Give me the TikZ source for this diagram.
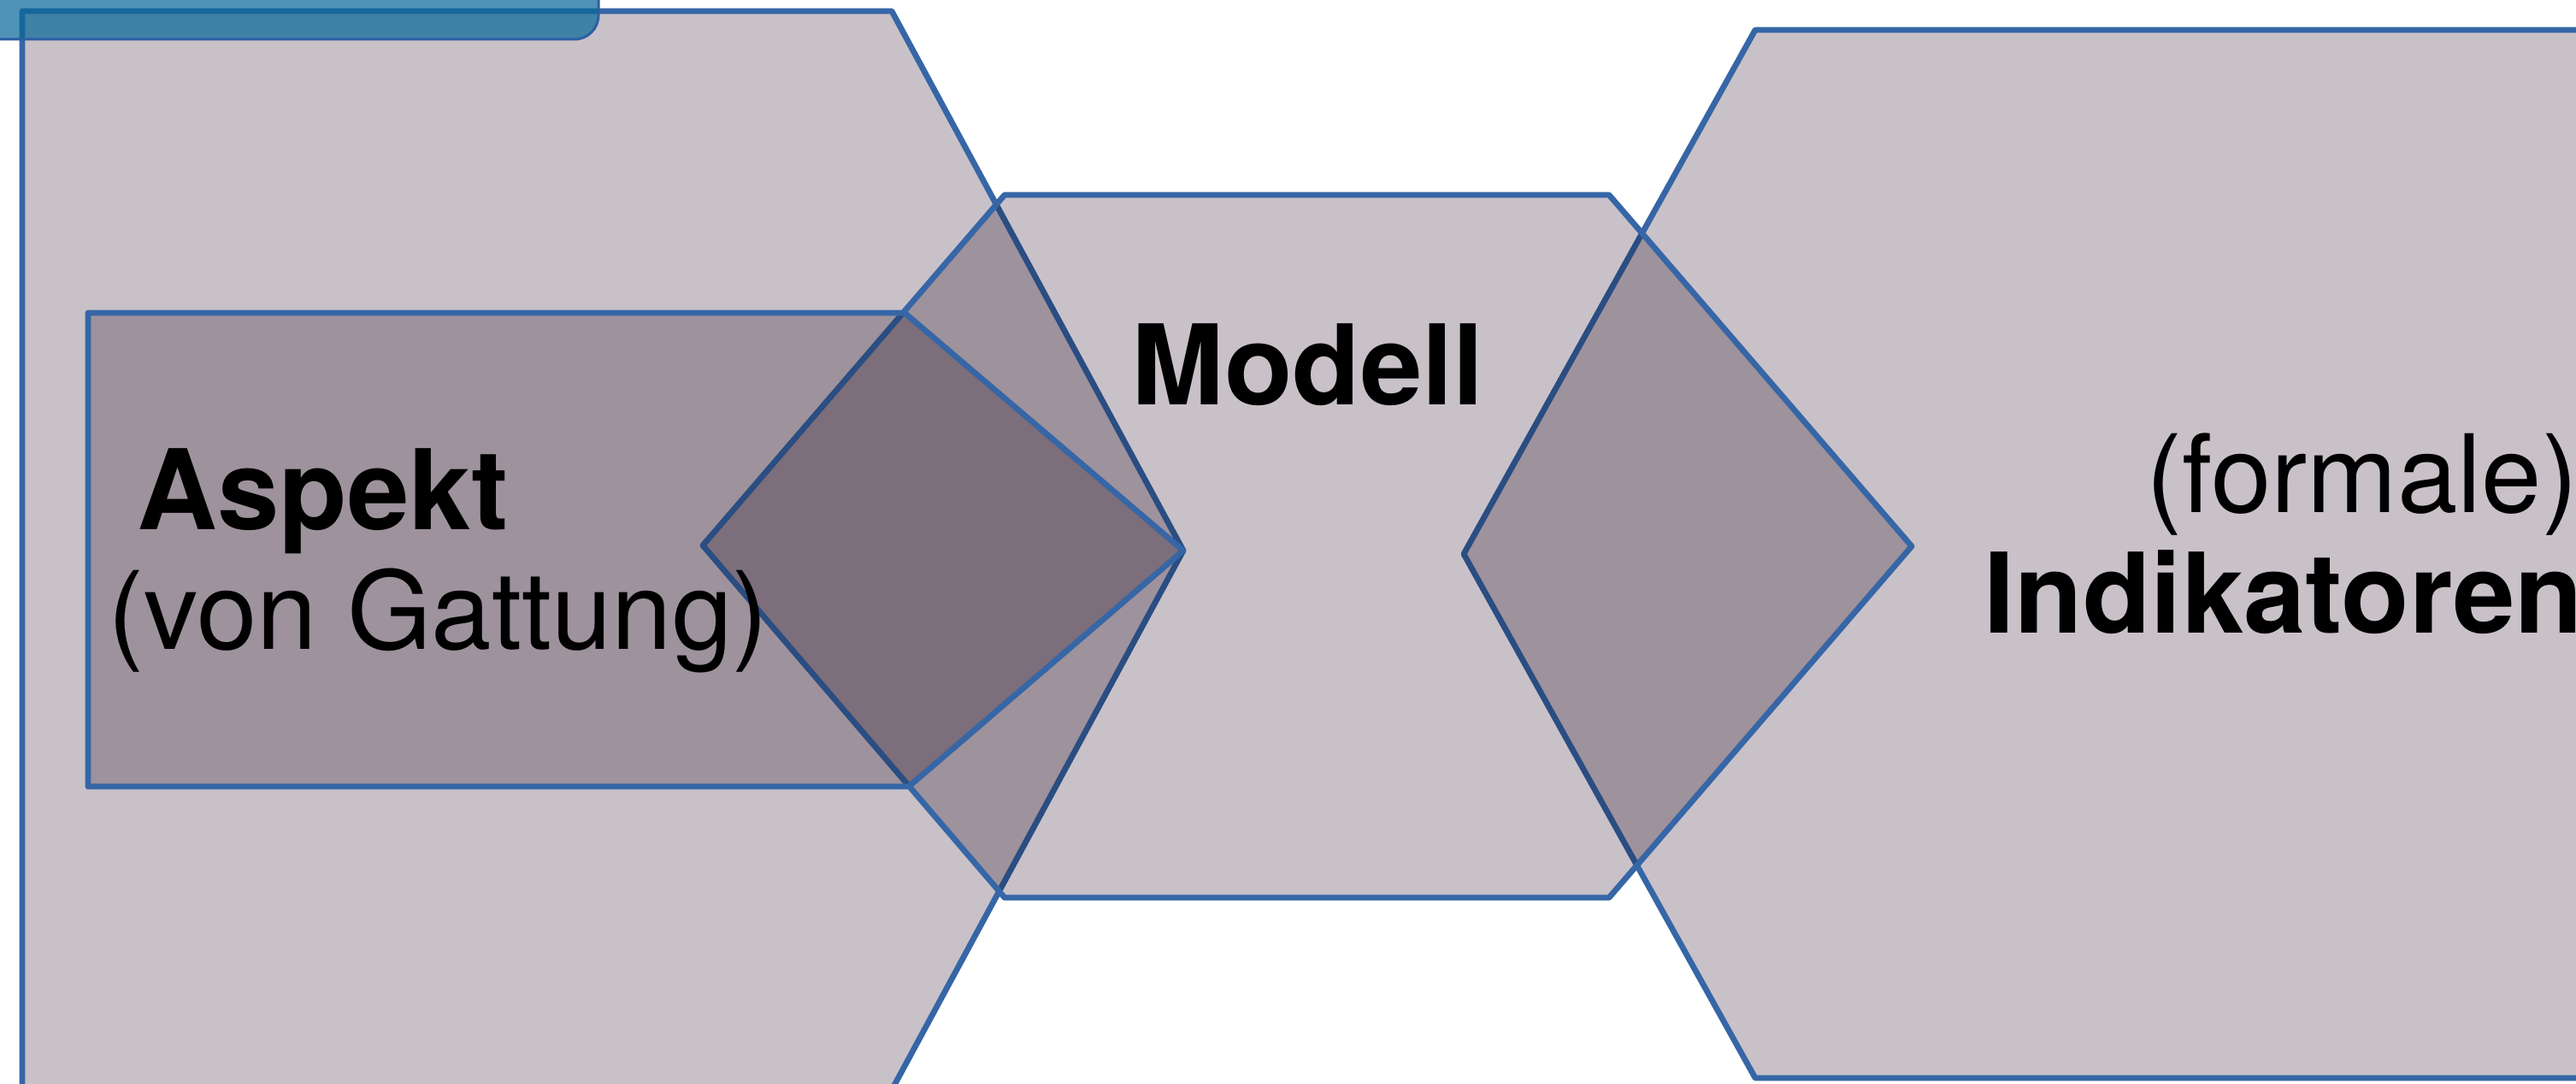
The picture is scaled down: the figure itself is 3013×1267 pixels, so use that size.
\documentclass[tikz,border=0pt]{standalone}
\usepackage{fontspec}
\setmainfont{TeX Gyre Heros}
\usepackage{tikz}
\usetikzlibrary{positioning}
\definecolor{hexgray}{RGB}{201,193,200}
\definecolor{hexblue}{RGB}{54,102,166}
\definecolor{tabblue}{RGB}{8,104,153}
\definecolor{tabline}{RGB}{44,96,162}

\begin{document}
\begin{tikzpicture}[
    x=0.01cm, y=-0.01cm,
    hexfill/.style={fill=hexgray, blend mode=multiply},
    hexline/.style={draw=hexblue, line width=0.068cm, line join=round},
    lbl/.style={font=\fontsize{36}{40}\selectfont, inner sep=0pt, text=black},
    bold/.style={lbl, font=\fontsize{37}{40}\selectfont\bfseries}
]
    % Canvas
    \path[use as bounding box, fill=white] (0,0) rectangle (3013,1267);

    % Left hexagon
    \fill[hexfill] (26,13) -- (1043,13) -- (1384,644) -- (1043,1275) -- (26,1275) -- cycle;
    \draw[hexline] (26,13) -- (1043,13) -- (1384,644) -- (1043,1275) -- (26,1275) -- cycle;

    % Right hexagon
    \fill[hexfill] (2053,35) -- (3200,35) -- (3200,1261) -- (2053,1261) -- (1712,648) -- cycle;
    \draw[hexline] (2053,35) -- (3200,35) -- (3200,1261) -- (2053,1261) -- (1712,648) -- cycle;

    % Middle hexagon
    \fill[hexfill] (822,638) -- (1175,228) -- (1882,228) -- (2236,639) -- (1882,1050) -- (1175,1050) -- cycle;
    \draw[hexline] (822,638) -- (1175,228) -- (1882,228) -- (2236,639) -- (1882,1050) -- (1175,1050) -- cycle;

    % Arrow box
    \fill[hexfill] (103,366) -- (1058,366) -- (1384,644) -- (1063,920) -- (103,920) -- cycle;
    \draw[hexline] (103,366) -- (1058,366) -- (1384,644) -- (1063,920) -- (103,920) -- cycle;

    % Labels
    \node[bold, anchor=base west] (aspekt) at (160,619) {Aspekt};
    \node[lbl, anchor=base west] (gattung) at (126,759) {(von Gattung)};
    \node[bold, anchor=base west] (modell) at (1323,473) {Modell};
    \node[lbl, anchor=base east] (formale) at (3016,599) {(formale)};
    \node[bold, anchor=base east] (indikatoren) at (3022,740) {Indikatoren};

    % Tab
    \draw[draw=tabline, line width=0.03cm, fill=tabblue, fill opacity=0.71, rounded corners=0.28cm]
        (-40,-40) rectangle (700,46);
\end{tikzpicture}
\end{document}
